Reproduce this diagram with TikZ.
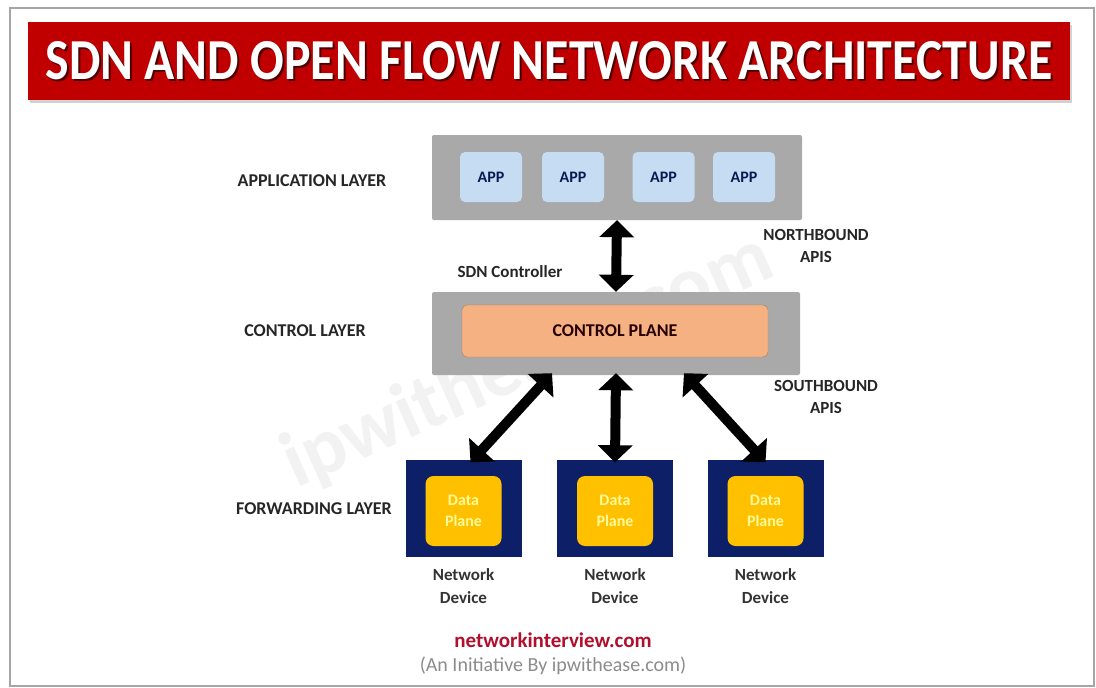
\documentclass[tikz,border=0pt]{standalone}
\usepackage{fontspec}
\setmainfont{Carlito}
\usetikzlibrary{arrows.meta}
\usetikzlibrary{shadows}
\usetikzlibrary{positioning}

\definecolor{titlered}{HTML}{C00000}
\definecolor{boxgray}{HTML}{A9A9A9}
\definecolor{appblue}{HTML}{C5DCF2}
\definecolor{planeorange}{HTML}{F6B183}
\definecolor{devnavy}{HTML}{0D1F66}
\definecolor{datayellow}{HTML}{FFC000}
\definecolor{sitered}{HTML}{B0102E}

\begin{document}
\begin{tikzpicture}[x=1pt,y=-1pt,
    layerbox/.style={fill=boxgray, rounded corners=2pt, inner sep=0pt},
    appbox/.style={fill=appblue, rounded corners=5pt, minimum width=62pt, minimum height=50pt, font=\fontsize{16}{16}\selectfont\bfseries, text=devnavy!80!black},
    devbox/.style={fill=devnavy, minimum width=116pt, minimum height=97pt},
    databox/.style={fill=datayellow, rounded corners=8pt, minimum width=76pt, minimum height=70pt, align=center, font=\fontsize{16}{21}\selectfont\bfseries, text=yellow!40!white},
    layerlabel/.style={font=\fontsize{18}{18}\selectfont\bfseries, text=black!85},
    apilabel/.style={align=center, font=\fontsize{17}{22}\selectfont\bfseries, text=black!85},
    devlabel/.style={align=center, font=\fontsize{17}{23}\selectfont\bfseries, text=black!80},
    dblarrow/.style={line width=10pt, {Triangle[width=34pt,length=17pt]}-{Triangle[width=34pt,length=17pt]}}]
  \useasboundingbox (0,0) rectangle (1096,688);
  \fill[white] (0,0) rectangle (1096,688);
  \draw[gray!70, line width=2pt] (10,8) rectangle (1094,686);  %Rahmen
  \node[rotate=24, text=black!5, font=\fontsize{80}{80}\selectfont\bfseries] (mark) at (528,362) {ipwithease.com};  %Wasserzeichen

  % Titel
  \node[fill=titlered, minimum width=1042pt, minimum height=78pt, drop shadow={opacity=0.35, shadow xshift=2pt, shadow yshift=-3pt}] (title) at (549,61) {};
  \node[text=red!30!black, font=\fontsize{58}{58}\selectfont\bfseries] at ([xshift=2pt,yshift=-2pt]title.center) {\scalebox{0.86}[1]{SDN AND OPEN FLOW NETWORK ARCHITECTURE}};
  \node[text=white, font=\fontsize{58}{58}\selectfont\bfseries] (titletext) at (title.center) {\scalebox{0.86}[1]{SDN AND OPEN FLOW NETWORK ARCHITECTURE}};

  % Schichten
  \node[layerbox, minimum width=370pt, minimum height=85pt] (applayer) at (617,177.5) {};
  \foreach \x/\n in {491/1, 573/2, 663.5/3, 744/4}  %APP-Kaesten
    \node[appbox] (app\n) at (\x,177) {APP};
  \node[layerbox, minimum width=368pt, minimum height=83pt] (ctrllayer) at (616,333.5) {};
  \node[fill=planeorange, draw=planeorange!70!black, rounded corners=5pt, minimum width=306pt, minimum height=52pt,
        font=\fontsize{18}{18}\selectfont\bfseries, text=black!85!red] (ctrlplane) at (615,331) {CONTROL PLANE};

  \node[layerlabel] (applabel) at (312,181) {APPLICATION LAYER};
  \node[layerlabel] (ctrllabel) at (305,331) {CONTROL LAYER};
  \node[layerlabel] (fwdlabel) at (314,509) {FORWARDING LAYER};
  \node[layerlabel, font=\fontsize{17}{17}\selectfont\bfseries] (sdnlabel) at (510,272) {SDN Controller};
  \node[apilabel] (northlabel) at (816,246) {NORTHBOUND\\APIS};
  \node[apilabel] (southlabel) at (826,397) {SOUTHBOUND\\APIS};

  % Geraete
  \foreach \x/\n in {463.5/1, 615/2, 765.5/3}  %Netzwerkgeraete
  {
    \node[devbox] (dev\n) at (\x,508) {};
    \node[databox] (data\n) at (\x,511) {Data\\Plane};
    \node[devlabel] (devlabel\n) at (\x,586) {Network\\Device};
  };

  % Pfeile
  \draw[dblarrow] (applayer.south) -- (ctrllayer.north);  %Northbound
  \draw[dblarrow] ([xshift=-64pt,yshift=2pt]ctrllayer.south) -- ([xshift=7pt,yshift=-3pt]dev1.north);
  \draw[dblarrow] ([yshift=2pt]ctrllayer.south) -- ([yshift=-3pt]dev2.north);
  \draw[dblarrow] ([xshift=68pt,yshift=2pt]ctrllayer.south) -- ([xshift=0pt,yshift=-3pt]dev3.north);

  % Fusszeile
  \node[font=\fontsize{21}{21}\selectfont\bfseries, text=sitered] (site) at (553,640) {networkinterview.com};
  \node[font=\fontsize{20}{20}\selectfont, text=black!45, below=2pt of site.south, anchor=north] (initiative) {(An Initiative By ipwithease.com)};
\end{tikzpicture}
\end{document}
